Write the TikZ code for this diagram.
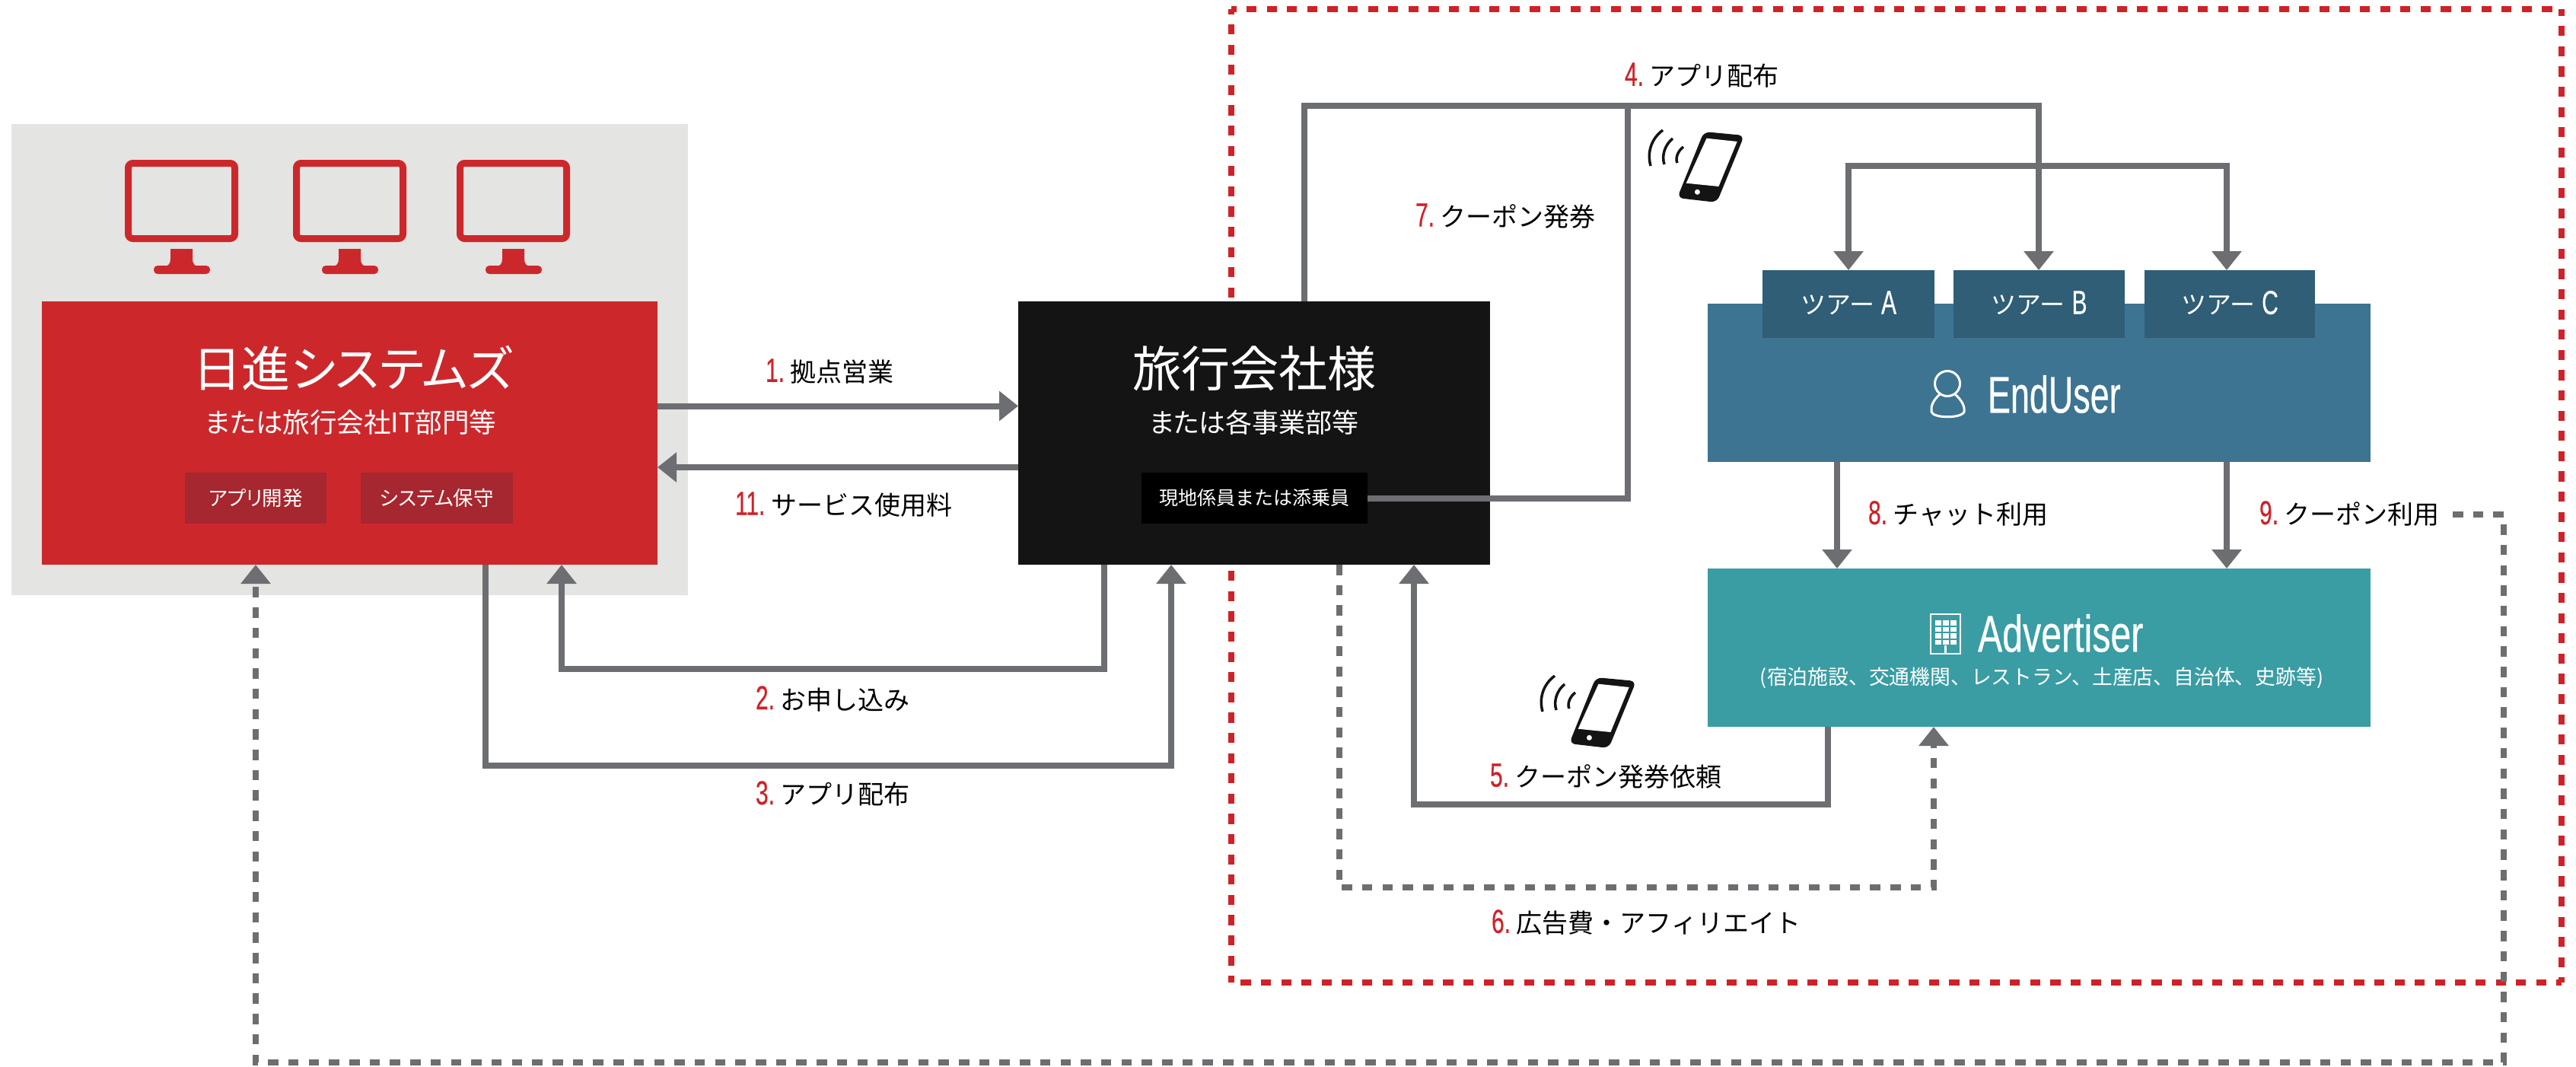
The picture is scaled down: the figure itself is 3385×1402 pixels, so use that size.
\documentclass[tikz,border=0pt]{standalone}
\usepackage{fontspec}
\usetikzlibrary{arrows.meta}
\setmainfont{Noto Sans CJK JP}
\newfontfamily\jp{Noto Sans CJK JP}
\newfontfamily\jpp[RawFeature=+palt]{Noto Sans CJK JP}
\newfontfamily\cond[FakeStretch=0.68,FakeBold=0.4]{Liberation Sans}
\newfontfamily\condeu[FakeStretch=0.66,FakeBold=0.4]{Liberation Sans}
\newfontfamily\condb[FakeStretch=0.71,FakeBold=0.4]{Liberation Sans}
\definecolor{nisred}{HTML}{CC282C}
\definecolor{frred}{HTML}{CE2228}
\definecolor{panel}{HTML}{E4E4E2}
\definecolor{subred}{HTML}{A6272F}
\definecolor{blk}{HTML}{141414}
\definecolor{eublue}{HTML}{3D7492}
\definecolor{tourblue}{HTML}{2F5E76}
\definecolor{teal2}{HTML}{399DA3}
\definecolor{conn}{HTML}{6D6E71}
\newcommand{\fs}[1]{\fontsize{#1pt}{#1pt}\selectfont}
\newcommand{\lab}[2]{{\color{frred}\cond\fs{44}#1}\hspace{8pt}{\jp\fs{34}#2}}
\newcommand{\monitorshape}[1]{%
  \begin{scope}[xshift=#1pt]
    \draw[nisred,line width=9pt,rounded corners=6pt] (4.5,214.5) rectangle (144.5,313.5);
    \fill[nisred,rounded corners=5pt] (38,349) rectangle (112,360);
    \fill[nisred] (60,327) -- (89,327) -- (89,340) .. controls (89,347) and (92,350) .. (98,350) -- (51,350) .. controls (57,350) and (60,347) .. (60,340) -- cycle;
  \end{scope}}
\newcommand{\phoneshape}[2]{%
  \begin{scope}[xshift=#1pt,yshift=-#2pt]
    \fill[blk,rounded corners=8pt] (-9,-47) -- (44,-42) -- (8,46) -- (-44,40) -- cycle;
    \fill[white] (-5.5,-38.3) -- (34.7,-34) -- (10.4,25) -- (-32.3,20.7) -- cycle;
    \fill[white] (-17.6,32.3) circle (3.5);
    \draw[blk,line width=3.5pt] (-79,-2) .. controls (-84,-20) and (-78,-38) .. (-63,-49);
    \draw[blk,line width=3.5pt] (-61,-4) .. controls (-65,-16) and (-60,-30) .. (-50,-38);
    \draw[blk,line width=3.5pt] (-44,-6) .. controls (-47,-12) and (-43,-22) .. (-36,-27);
  \end{scope}}
\tikzset{
  x=1pt,y=-1pt,
  box/.style={rectangle,inner sep=0pt,outer sep=0pt,draw=none,text=white,align=center},
  txt/.style={inner sep=0pt,outer sep=0pt,text=white,align=center},
  lbl/.style={inner sep=0pt,outer sep=0pt,anchor=west,text=black},
  solidline/.style={draw=conn,line width=8pt},
  dashline/.style={draw=conn,line width=8pt,dash pattern=on 13.5pt off 13.2pt},
  tip/.style={-{Triangle[length=25pt,width=38pt]}},
  frameline/.style={draw=frred,line width=8pt,dash pattern=on 13.3pt off 13.3pt,dash phase=6.65pt}
}
\begin{document}
\begin{tikzpicture}
\useasboundingbox (0,0) rectangle (3385,1402);
\fill[white] (0,0) rectangle (3385,1402);
% frame
\coordinate (ftl) at (1618,12);
\coordinate (fbr) at (3366,1291);
\draw[frameline] (ftl) -- (fbr |- ftl);
\draw[frameline] (ftl) -- (ftl |- fbr);
\draw[frameline] (fbr) -- (ftl |- fbr);
\draw[frameline] (fbr) -- (fbr |- ftl);
% gray panel
\fill[panel] (15,163) rectangle (904,782);
\monitorshape{164}\monitorshape{385}\monitorshape{600}
% main boxes
\node[box,fill=nisred,minimum width=809pt,minimum height=346pt] (nis) at (459.5,569) {};
\node[box,fill=subred,minimum width=186pt,minimum height=67pt,font=\jpp\fs{26.5}] (appdev) at (336,654.5) {アプリ開発};
\node[box,fill=subred,minimum width=200pt,minimum height=67pt,font=\jpp\fs{26.5}] (sysmt) at (574,654.5) {システム保守};
\node[txt,font=\jpp\fs{64}] (nistitle) at (464,484) {日進システムズ};
\node[txt,font=\jpp\fs{35.5}] (nissub) at (461,555) {または旅行会社IT部門等};
\node[box,fill=blk,minimum width=620pt,minimum height=346pt] (agency) at (1648,569) {};
\node[box,fill=black,minimum width=297pt,minimum height=67pt,font=\jp\fs{25}] (staff) at (1648.5,654.5) {現地係員または添乗員};
\node[txt,font=\jp\fs{64}] (agtitle) at (1648,484) {旅行会社様};
\node[txt,font=\jpp\fs{35}] (agsub) at (1648,555) {または各事業部等};
\node[box,fill=eublue,minimum width=871pt,minimum height=208pt] (eu) at (2679.5,503) {};
\node[box,fill=tourblue,minimum width=226pt,minimum height=89pt] (ta) at (2429,399.5) {};
\node[box,fill=tourblue,minimum width=225pt,minimum height=89pt] (tb) at (2679.5,399.5) {};
\node[box,fill=tourblue,minimum width=224pt,minimum height=89pt] (tc) at (2930,399.5) {};
\node[txt] (tat) at (2429,398) {\jp\fs{33}ツアー\hspace{9pt}\cond\fs{44}A};
\node[txt] (tbt) at (2679.5,398) {\jp\fs{33}ツアー\hspace{9pt}\cond\fs{44}B};
\node[txt] (tct) at (2930,398) {\jp\fs{33}ツアー\hspace{9pt}\cond\fs{44}C};
\node[txt,font=\condeu\fs{68},anchor=west] (eut) at (2612,518) {EndUser};
\draw[white,line width=3pt] (2559,504) ellipse (16.5 and 16.5);
\draw[white,line width=3pt] (2549,518) .. controls (2540,526) and (2537,534) .. (2538,541) .. controls (2540,550) and (2578,550) .. (2581,541) .. controls (2582,534) and (2578,526) .. (2569,518);
\node[box,fill=teal2,minimum width=871pt,minimum height=208pt] (adv) at (2679.5,851) {};
\node[txt,font=\condb\fs{68},anchor=west] (advt) at (2599,832) {Advertiser};
\node[txt,font=\jp\fs{26.8}] (advsub) at (2683,891) {(宿泊施設、交通機関、レストラン、土産店、自治体、史跡等)};
% building icon
\draw[white,line width=2.5pt] (2537,807) rectangle (2576,859);
\foreach \cx in {2543,2553,2563}{\foreach \cy in {815,823.5,832,840.5}{\fill[white] (\cx,\cy) rectangle ++(7.5,6.5);}}
\draw[white,line width=2.5pt] (2556.5,848) -- (2556.5,859);
% phones
\phoneshape{2248}{220}
\phoneshape{2106}{937}
% connectors
\draw[solidline,tip] (nis.east |- 0,533.5) -- (agency.west |- 0,533.5);
\draw[solidline,tip] (agency.west |- 0,614) -- (nis.east |- 0,614);
\draw[solidline,tip] (agency.south -| 1451,0) -- (1451,879) -- (738,879) -- (nis.south -| 738,0);
\draw[solidline,tip] (nis.south -| 638,0) -- (638,1006) -- (1539,1006) -- (agency.south -| 1539,0);
\draw[solidline,tip] (agency.north -| 1714,0) -- (1714,139) -- (2679,139) -- (tb.north -| 2679,0);
\draw[solidline] (staff.east) -- (2139,654.5) -- (2139,139);
\draw[solidline,tip] (2429,218) -- (ta.north);
\draw[solidline,tip] (2926,218) -- (tc.north -| 2926,0);
\draw[solidline] (2425,218) -- (2930,218);
\draw[solidline,tip] (eu.south -| 2414,0) -- (adv.north -| 2414,0);
\draw[solidline,tip] (eu.south -| 2926,0) -- (adv.north -| 2926,0);
\draw[solidline,tip] (adv.south -| 2401.5,0) -- (2401.5,1057) -- (1858,1057) -- (agency.south -| 1858,0);
\draw[dashline,tip] (agency.south -| 1760,0) -- (1760,1166) -- (2541,1166) -- (adv.south -| 2541,0);
\coordinate (nine) at (3223,676);
\draw[dashline,tip] (nine) -- (3290,676) -- (3290,1396) -- (336,1396) -- (nis.south -| 336,0);
% labels
\node[lbl] (l1) at (1006,488) {\lab{1.}{拠点営業}};
\node[lbl] (l11) at (966,663) {\lab{11.}{サービス使用料}};
\node[lbl] (l2) at (993,918) {\lab{2.}{お申し込み}};
\node[lbl] (l3) at (993,1043) {\lab{3.}{アプリ配布}};
\node[lbl] (l4) at (2135,99) {\lab{4.}{アプリ配布}};
\node[lbl] (l5) at (1958,1020) {\lab{5.}{クーポン発券依頼}};
\node[lbl] (l6) at (1960,1212) {\lab{6.}{広告費・アフィリエイト}};
\node[lbl] (l7) at (1860,284) {\lab{7.}{クーポン発券}};
\node[lbl] (l8) at (2455,675) {\lab{8.}{チャット利用}};
\node[lbl] (l9) at (2969,675) {\lab{9.}{クーポン利用}};
\end{tikzpicture}
\end{document}
